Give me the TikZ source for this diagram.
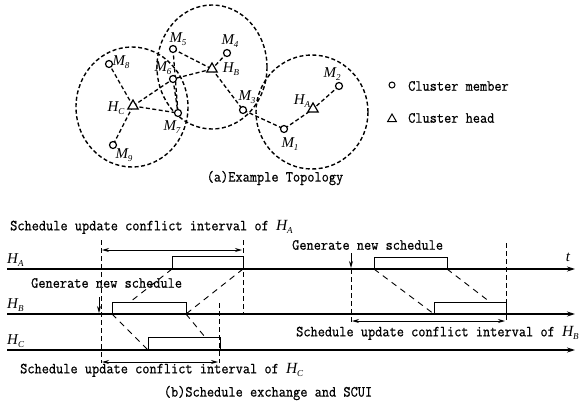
\documentclass[tikz,border=0pt]{standalone}
\usepackage{fontspec}
\setmonofont[FakeStretch=0.9, FakeBold=0.6]{Latin Modern Mono}
\newfontfamily\labfont{Liberation Serif}
\usetikzlibrary{arrows.meta,shapes.geometric}

% italic symbol with a lowered italic index
\newcommand\symidx[2]{{\labfont\itshape #1\raisebox{-0.45ex}{\fontsize{9}{9}\selectfont #2}}}

\tikzset{
  txt/.style={font=\fontsize{15.5}{17}\selectfont\ttfamily, inner sep=0pt},
  lbl/.style={font=\fontsize{15}{17}\selectfont, inner sep=0pt},
  member/.style={circle, draw, line width=1.2pt, fill=white, minimum size=7pt, inner sep=0pt},
  head/.style={regular polygon, regular polygon sides=3, draw, line width=1.2pt, fill=white,
               minimum size=12pt, inner sep=0pt},
  link/.style={line width=1.3pt, dash pattern=on 4pt off 2.5pt},
  rangecircle/.style={line width=1.4pt, dash pattern=on 4pt off 2.5pt},
  axis/.style={line width=1.1pt, -{Stealth[length=8pt,width=5pt]}},
  slot/.style={draw, line width=1pt, inner sep=0pt, outer sep=0pt, anchor=south west},
  guide/.style={line width=0.9pt, dash pattern=on 4.5pt off 3.5pt},
  relay/.style={line width=0.9pt, dash pattern=on 6pt off 5pt},
  span/.style={line width=0.9pt, {Stealth[length=7pt,width=4pt]}-{Stealth[length=7pt,width=4pt]}},
  trigger/.style={line width=0.9pt, -{Stealth[length=7pt,width=4pt]}}
}

\begin{document}
\begin{tikzpicture}[x=1pt,y=-1pt]
\useasboundingbox (0,0) rectangle (584,405);

% ---------- (a) cluster topology ----------
\draw[rangecircle] (132,107) ellipse [x radius=56, y radius=60];
\draw[rangecircle] (212,67) ellipse [x radius=55, y radius=62];
\draw[rangecircle] (312,112) ellipse [x radius=56, y radius=57];

\coordinate (pM8) at (109,64);
\coordinate (pHC) at (133,106);
\coordinate (pM9) at (113,145);
\coordinate (pM6) at (173,79);
\coordinate (pM7) at (178,113);
\coordinate (pM5) at (173,49);
\coordinate (pM4) at (227,53);
\coordinate (pHB) at (212,69);
\coordinate (pM3) at (243,110);
\coordinate (pM1) at (284,129);
\coordinate (pHA) at (313,109);
\coordinate (pM2) at (339,86);

% links (drawn first, nodes cover the ends)
\draw[link] (pHC) -- (pM8);
\draw[link] (pHC) -- (pM9);
\draw[link] (pHC) -- (pM6) -- (pHB);
\draw[link] (pHC) -- (pM7);
\draw[link] (pM6) -- (pM7);
\draw[link] (pM5) -- (pM7);
\draw[link] (pM5) -- (pHB);
\draw[link] (pM4) -- (pHB);
\draw[link] (pHB) -- (pM3) -- (pM1) -- (pHA) -- (pM2);

\node[member] (M8) at (pM8) {};
\node[member] (M9) at (pM9) {};
\node[member] (M6) at (pM6) {};
\node[member] (M7) at (pM7) {};
\node[member] (M5) at (pM5) {};
\node[member] (M4) at (pM4) {};
\node[member] (M3) at (pM3) {};
\node[member] (M1) at (pM1) {};
\node[member] (M2) at (pM2) {};
\node[head] (HC) at (pHC) {};
\node[head] (HB) at (pHB) {};
\node[head] (HA) at (pHA) {};

\node[lbl] (tM8) at (121,62) {\symidx{M}{8}};
\node[lbl] (tHC) at (116,108) {\symidx{H}{C}};
\node[lbl] (tM9) at (124,155) {\symidx{M}{9}};
\node[lbl] (tM6) at (163,68) {\symidx{M}{6}};
\node[lbl] (tM7) at (172,127) {\symidx{M}{7}};
\node[lbl] (tM5) at (178,39) {\symidx{M}{5}};
\node[lbl] (tM4) at (230,41) {\symidx{M}{4}};
\node[lbl] (tHB) at (231,69) {\symidx{H}{B}};
\node[lbl] (tM3) at (247,97) {\symidx{M}{3}};
\node[lbl] (tM1) at (290,144) {\symidx{M}{1}};
\node[lbl] (tHA) at (302,101) {\symidx{H}{A}};
\node[lbl] (tM2) at (332,74) {\symidx{M}{2}};

% legend
\node[member, line width=1pt, minimum size=6pt] (legM) at (392,85) {};
\node[txt, anchor=west] (legMt) at (408,86) {Cluster member};
\node[head, line width=1pt, minimum size=10pt] (legH) at (392,119) {};
\node[txt, anchor=west] (legHt) at (408,118) {Cluster head};

\node[txt] (capA) at (275,178) {(a)Example Topology};

% ---------- (b) schedule exchange ----------
\coordinate (A0) at (7,269);   \coordinate (A1) at (575,269);
\coordinate (B0) at (7,314);   \coordinate (B1) at (575,314);
\coordinate (C0) at (7,350);   \coordinate (C1) at (575,350);
\draw[axis] (A0) -- (A1);
\draw[axis] (B0) -- (B1);
\draw[axis] (C0) -- (C1);
\node[lbl, anchor=south west] (lA) at (7,267) {\symidx{H}{A}};
\node[lbl, anchor=south west] (lB) at (7,312) {\symidx{H}{B}};
\node[lbl, anchor=south west] (lC) at (7,348) {\symidx{H}{C}};
\node[lbl] (tt) at (568,257) {\labfont\itshape t};

% schedule slots
\node[slot, minimum width=71pt, minimum height=13pt] (sA1) at (172,269) {};
\node[slot, minimum width=74pt, minimum height=12pt] (sB1) at (112,314) {};
\node[slot, minimum width=72pt, minimum height=13pt] (sC1) at (148,350) {};
\node[slot, minimum width=73pt, minimum height=12pt] (sA2) at (374,269) {};
\node[slot, minimum width=72pt, minimum height=12pt] (sB2) at (434,314) {};

% interval boundaries
\coordinate (g1t) at (101,240); \coordinate (g1b) at (101,363);
\coordinate (g2t) at (243,240); \coordinate (g2b) at (243,314);
\coordinate (g3t) at (219,303); \coordinate (g3b) at (219,363);
\coordinate (g4t) at (351,269); \coordinate (g4b) at (351,323);
\coordinate (g5t) at (506,243); \coordinate (g5b) at (506,323);
\draw[guide] (g1t) -- (g1b);
\draw[guide] (g2t) -- (g2b);
\draw[guide] (g3t) -- (g3b);
\draw[guide] (g4t) -- (g4b);
\draw[guide] (g5t) -- (g5b);

% schedule propagation
\coordinate (rB1) at (130,302);
\coordinate (rC1) at (205,337);
\coordinate (rB2) at (490,302);
\draw[relay] (sA1.south west) -- (rB1);
\draw[relay] (sA1.south east) -- (sB1.south east);
\draw[relay] (sB1.south west) -- (sC1.south west);
\draw[relay] (sB1.south east) -- (rC1);
\draw[relay] (sA2.south west) -- (sB2.south west);
\draw[relay] (sA2.south east) -- (rB2);

% conflict intervals
\coordinate (iA0) at (102,250); \coordinate (iA1) at (242,250);
\coordinate (iC0) at (102,362); \coordinate (iC1) at (218,362);
\coordinate (iB0) at (352,321); \coordinate (iB1) at (505,321);
\draw[span] (iA0) -- (iA1);
\draw[span] (iC0) -- (iC1);
\draw[span] (iB0) -- (iB1);

\node[txt, anchor=west] (tIA) at (10,227) {Schedule update conflict interval of \normalfont\symidx{H}{A}};
\node[txt, anchor=west] (tIC) at (20,370) {Schedule update conflict interval of \normalfont\symidx{H}{C}};
\node[txt, anchor=west] (tIB) at (296,333) {Schedule update conflict interval of \normalfont\symidx{H}{B}};

% new schedule triggers
\node[txt, anchor=west] (gen1) at (31,283) {Generate new schedule};
\node[txt, anchor=west] (gen2) at (292,245) {Generate new schedule};
\coordinate (k1) at (99,297); \coordinate (k1e) at (99,313);
\coordinate (k2) at (351,253); \coordinate (k2e) at (351,268);
\draw[trigger] (k1) -- (k1e);
\draw[trigger] (k2) -- (k2e);

\node[txt] (capB) at (268,393) {(b)Schedule exchange and SCUI};
\end{tikzpicture}
\end{document}
